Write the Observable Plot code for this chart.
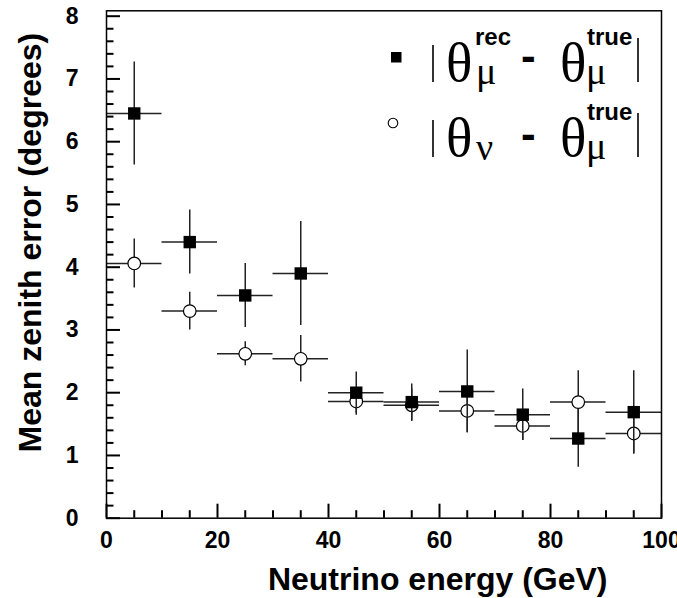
<!DOCTYPE html>
<html>
<head>
<meta charset="utf-8">
<script src="https://cdn.jsdelivr.net/npm/d3@7"></script>
<script src="https://cdn.jsdelivr.net/npm/@observablehq/plot@0.6"></script>
<style>
  html, body { margin: 0; padding: 0; background: #fff; }
  #chart svg { display: block; }
</style>
</head>
<body>
<div id="chart"></div>
<script>
// ---- data ----
const energies = [5, 15, 25, 35, 45, 55, 65, 75, 85, 95];   // bin centres (GeV)
const binWidth = 10;                                          // GeV
const recMean = [6.45, 4.40, 3.55, 3.90, 2.00, 1.85, 2.02, 1.65, 1.27, 1.69];
const recErr  = [0.82, 0.51, 0.51, 0.83, 0.33, 0.29, 0.66, 0.41, 0.46, 0.66];
const nuMean  = [4.06, 3.30, 2.62, 2.54, 1.86, 1.80, 1.71, 1.47, 1.85, 1.35];
const nuErr   = [0.39, 0.30, 0.19, 0.37, 0.22, 0.26, 0.35, 0.23, 0.50, 0.33];
const xTicks = [0, 20, 40, 60, 80, 100];
const xMinorTicks = [5, 10, 15, 25, 30, 35, 45, 50, 55, 65, 70, 75, 85, 90, 95];
const yTicks = [0, 1, 2, 3, 4, 5, 6, 7, 8];
const yMinorTicks = [0.2, 0.4, 0.6, 0.8, 1.2, 1.4, 1.6, 1.8, 2.2, 2.4, 2.6, 2.8, 3.2, 3.4, 3.6, 3.8,
                     4.2, 4.4, 4.6, 4.8, 5.2, 5.4, 5.6, 5.8, 6.2, 6.4, 6.6, 6.8, 7.2, 7.4, 7.6, 7.8];
const xLabel = "Neutrino energy (GeV)";
const yLabel = "Mean zenith error (degrees)";

const rec = energies.map((e, i) => ({e, m: recMean[i], s: recErr[i]}));
const nu  = energies.map((e, i) => ({e, m: nuMean[i], s: nuErr[i]}));
const yMajorRows = yTicks.map(v => ({v}));
const yMinorRows = yMinorTicks.map(v => ({v}));
const xMajorRows = xTicks.map(v => ({v}));
const xMinorRows = xMinorTicks.map(v => ({v}));

const sans = "'Liberation Sans', Arial, Helvetica, sans-serif";
const serif = "'Liberation Serif', 'Times New Roman', serif";
const barColor = "#222";

const W = 677, H = 598, mL = 106, mR = 16, mT = 10.3, mB = 80.3;
const xDom = [0, 100], yDom = [0, 8.086];
const frameW = W - mL - mR, frameH = H - mT - mB;
const xMaj = 14 * 100 / frameW, xMin = 7.5 * 100 / frameW;
const yMaj = 14 * yDom[1] / frameH, yMin = 7.5 * yDom[1] / frameH;

const chart = Plot.plot({
  width: W,
  height: H,
  marginLeft: mL,
  marginRight: mR,
  marginTop: mT,
  marginBottom: mB,
  style: {fontFamily: sans, color: "#000", background: "#fff", overflow: "visible"},
  x: {domain: xDom, axis: null},
  y: {domain: yDom, axis: null},
  marks: [
    // error bars
    Plot.ruleY(nu, {y: "m", x1: d => d.e - binWidth / 2, x2: d => d.e + binWidth / 2, stroke: barColor, strokeWidth: 1.5}),
    Plot.ruleX(nu, {x: "e", y1: d => d.m - d.s, y2: d => d.m + d.s, stroke: barColor, strokeWidth: 1.5}),
    Plot.dot(nu, {x: "e", y: "m", r: 6.3, symbol: "circle", fill: "#fff", stroke: "#000", strokeWidth: 1.2}),
    Plot.ruleY(rec, {y: "m", x1: d => d.e - binWidth / 2, x2: d => d.e + binWidth / 2, stroke: barColor, strokeWidth: 1.5}),
    Plot.ruleX(rec, {x: "e", y1: d => d.m - d.s, y2: d => d.m + d.s, stroke: barColor, strokeWidth: 1.5}),
    Plot.dot(rec, {x: "e", y: "m", r: 7, symbol: "square", fill: "#000", stroke: "none"}),
    // tick labels
    Plot.axisY({ticks: yTicks, tickSize: 0, tickPadding: 28, fontSize: 23, fontWeight: "bold", label: null, tickFormat: d => String(d)}),
    Plot.axisX({ticks: xTicks, tickSize: 0, tickPadding: 13, fontSize: 23, fontWeight: "bold", label: null, tickFormat: d => String(d)}),
    // axis titles
    Plot.text([xLabel], {text: d => d, frameAnchor: "bottom-right", textAnchor: "end", lineAnchor: "bottom", dx: -54, dy: 72, fontSize: 32, fontWeight: "bold"}),
    Plot.text([yLabel], {text: d => d, frameAnchor: "top-left", textAnchor: "end", lineAnchor: "bottom", rotate: -90, dx: -66, dy: 22, fontSize: 32, fontWeight: "bold"}),
    Plot.frame({stroke: "#000", strokeWidth: 1.5}),
    // inward axis ticks (drawn after the frame)
    Plot.ruleY(yMajorRows, {y: "v", x1: () => 0, x2: () => xMaj, stroke: "#000", strokeWidth: 2}),
    Plot.ruleY(yMinorRows, {y: "v", x1: () => 0, x2: () => xMin, stroke: "#000", strokeWidth: 2}),
    Plot.ruleX(xMajorRows, {x: "v", y1: () => 0, y2: () => yMaj, stroke: "#000", strokeWidth: 2}),
    Plot.ruleX(xMinorRows, {x: "v", y1: () => 0, y2: () => yMin, stroke: "#000", strokeWidth: 2})
  ]
});

const svg = d3.select(chart);

// ---- legend ----
const lg = svg.append("g").attr("class", "legend").attr("text-anchor", "start");
lg.append("rect").attr("x", 391).attr("y", 52).attr("width", 10.5).attr("height", 10.5).attr("fill", "#000");
lg.append("circle").attr("cx", 393).attr("cy", 123).attr("r", 4.8).attr("fill", "#fff").attr("stroke", "#000").attr("stroke-width", 1.1);

function row(o) {
  lg.append("line").attr("x1", 433).attr("x2", 433).attr("y1", o.barTopL).attr("y2", o.base + 1).attr("stroke", "#000").attr("stroke-width", 1.6);
  lg.append("line").attr("x1", 638).attr("x2", 638).attr("y1", o.barTopR).attr("y2", o.base + 1).attr("stroke", "#000").attr("stroke-width", 1.6);
  const t = (x, y, s, f, size, w) => lg.append("text").attr("x", x).attr("y", y).attr("font-family", f)
      .attr("font-size", size).attr("font-weight", w || "normal").attr("fill", "#000").attr("text-anchor", "start").text(s);
  t(446, o.base, "θ", serif, 55);
  t(o.sub1x, o.sub1y, o.sub1, serif, 38);
  if (o.sup1) t(475, o.supY, o.sup1, sans, 24, "bold");
  t(521, o.dashY, "-", sans, 44, "bold");
  t(560, o.base, "θ", serif, 55);
  t(586, o.sub2y, "μ", serif, 38);
  t(587, o.supY, "true", sans, 24, "bold");
}
row({base: 81, barTopL: 45, barTopR: 38, sub1: "μ", sub1x: 476, sub1y: 84, sup1: "rec", supY: 45, dashY: 71, sub2y: 84});
row({base: 156, barTopL: 120, barTopR: 113, sub1: "ν", sub1x: 476, sub1y: 160, sup1: null, supY: 120, dashY: 149, sub2y: 159});

document.getElementById("chart").appendChild(chart);
</script>
</body>
</html>
